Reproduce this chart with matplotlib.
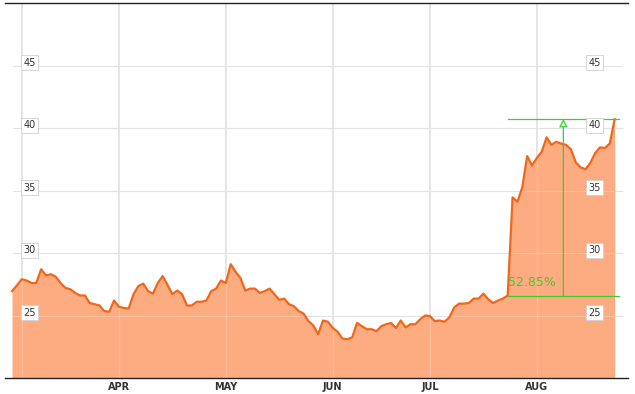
# === Bibliotecas ===
import numpy as np
import matplotlib.pyplot as plt
from matplotlib.transforms import blended_transform_factory

# === Dados (fechamento diário, por pregão) ===
precos = [26.95, 27.4, 27.9, 27.8, 27.6, 27.6, 28.7, 28.2, 28.3, 28.1,
          27.6, 27.2, 27.1, 26.8, 26.6, 26.6, 26.0, 25.9, 25.8, 25.35,
          25.3, 26.2, 25.7, 25.6, 25.55, 26.7, 27.35, 27.55, 26.95, 26.75,
          27.6, 28.15, 27.45, 26.7, 27.0, 26.7, 25.8, 25.8, 26.1, 26.1,
          26.2, 26.95, 27.15, 27.8, 27.6, 29.1, 28.5, 28.0, 27.0, 27.15,
          27.15, 26.8, 26.95, 27.15, 26.7, 26.25, 26.35, 25.9, 25.75, 25.35,
          25.15, 24.55, 24.2, 23.5, 24.6, 24.5, 24.0, 23.7, 23.15, 23.1,
          23.25, 24.4, 24.15, 23.9, 23.9, 23.75, 24.15, 24.3, 24.4, 24.0,
          24.6, 24.05, 24.3, 24.3, 24.7, 25.0, 24.95, 24.55, 24.6, 24.5,
          24.85, 25.65, 25.95, 25.95, 26.0, 26.35, 26.35, 26.75, 26.3, 26.0,
          26.2, 26.35, 26.6, 34.45, 34.1, 35.25, 37.75, 37.0, 37.6, 38.1,
          39.25, 38.65, 38.9, 38.75, 38.65, 38.3, 37.25, 36.85, 36.7, 37.2,
          38.0, 38.45, 38.4, 38.75, 40.7]
meses_pos = [2, 22, 44, 66, 86, 108]          # primeiro pregão de cada mês
meses_txt = ['', 'APR', 'MAY', 'JUN', 'JUL', 'AUG']
y_ticks = [25, 30, 35, 40, 45]
inicio_var, fim_var = 102, 124                # pregões da medição
texto_var = '52.85%'

x = np.arange(len(precos))
verde = '#40cc30'

# === Figura ===
fig = plt.figure(figsize=(6.35, 3.94), dpi=100)
ax = fig.add_axes([5/635, 16/394, 623/635, 375/394])

ax.set_xlim(-1.44, 126.75)
ax.set_ylim(20, 50)

# grades
for m in meses_pos:
    ax.axvline(m, color='#e2e2e2', lw=1.4, zorder=0)
    ax.axvline(m, color='white', lw=1.0, alpha=0.2, zorder=1.5)
for v in y_ticks:
    ax.axhline(v, xmin=0.013, xmax=0.99, color='#dadada', lw=0.8, zorder=0)
    ax.axhline(v, xmin=0.013, xmax=0.99, color='white', lw=0.8, alpha=0.25, zorder=1.5)

# área + linha
ax.fill_between(x, precos, 20, color='#fdab80', lw=0, zorder=1)
ax.plot(x, precos, color='#f0661a', lw=1.6, zorder=2)

# rótulos do eixo y (caixinhas dos dois lados)
trans = blended_transform_factory(ax.transAxes, ax.transData)
for v in y_ticks:
    for xa in (0.0393, 0.946):
        ax.text(xa, v + 0.22, str(v), transform=trans, ha='center', va='center',
                fontsize=7, color='#333333', zorder=5,
                bbox=dict(boxstyle='square,pad=0.25', fc='white', ec='#d0d0d0', lw=0.6))

# medição da variação
p0, p1 = precos[inicio_var], precos[fim_var]
x_fim = fim_var + 0.9
ax.plot([inicio_var, x_fim], [p0, p0], color=verde, lw=0.9, zorder=4)
ax.plot([inicio_var, x_fim], [p1, p1], color=verde, lw=0.9, zorder=4)
x_meio = (inicio_var + x_fim) / 2
ax.annotate('', xy=(x_meio, p1), xytext=(x_meio, p0),
            arrowprops=dict(arrowstyle='-|>,head_length=0.45,head_width=0.25',
                            ec=verde, fc='white', lw=0.9, shrinkA=0, shrinkB=0),
            zorder=4)
ax.text(inicio_var + 0.1, p0 + 0.5, texto_var, color=verde, fontsize=9,
        ha='left', va='bottom', zorder=4)

# eixos
ax.set_xticks(meses_pos)
ax.set_xticklabels(meses_txt, fontsize=7, fontweight='bold', color='#333333')
ax.tick_params(axis='x', length=0, pad=3)
ax.set_yticks([])
for lado in ('left', 'right'):
    ax.spines[lado].set_visible(False)
ax.spines['bottom'].set_color('#222222')
ax.spines['top'].set_color('#222222')
ax.spines['bottom'].set_linewidth(1.0)
ax.spines['top'].set_linewidth(1.0)

fig.savefig('out.png', dpi=100, facecolor='white')
